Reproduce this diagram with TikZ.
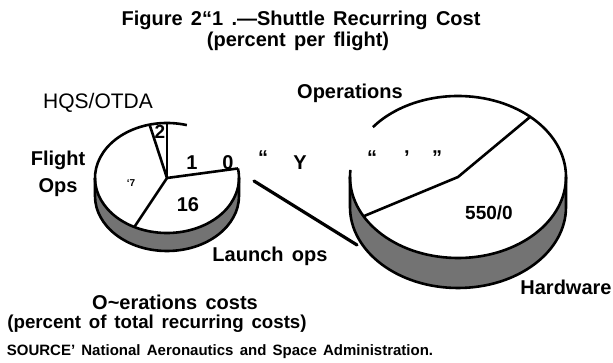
\documentclass[tikz,border=0pt]{standalone}
\usepackage{fontspec}
\setmainfont{Liberation Sans}[WordSpace=1.5]
\tikzset{
  rim/.style={line width=2.6pt, line join=round},
  side/.style={fill=black!55},
  lbl/.style={font=\bfseries\fontsize{20}{22}\selectfont, inner sep=0pt},
  ttl/.style={font=\bfseries\fontsize{20}{22}\selectfont, inner sep=0pt},
  pct/.style={font=\bfseries\fontsize{19}{21}\selectfont, inner sep=0pt},
}
\begin{document}
\begin{tikzpicture}[x=1pt,y=1pt]
\useasboundingbox (0,0) rectangle (613,363);
\node[ttl] (title) at (301,343) {Figure 2“1 .—Shuttle Recurring Cost};
\node[ttl] (subtitle) at (298,322) {(percent per flight)};
% small pie
\coordinate (small) at (167,185);
\fill[side] (small) ++(180:72 and 55) arc[start angle=180,end angle=360,x radius=72,y radius=55]
  -- ++(0,-18) arc[start angle=360,end angle=180,x radius=72,y radius=55] -- cycle;
\draw[rim] (small) ++(180:72 and 55) -- ++(0,-18)
  arc[start angle=180,end angle=360,x radius=72,y radius=55] -- ++(0,18);
\draw[rim] (small) ++(74:72 and 55) arc[start angle=74,end angle=370,x radius=72,y radius=55];
\draw[rim] (small) -- +(10:72 and 55);
\draw[rim] (small) -- +(90:72 and 55);
\draw[rim] (small) -- +(104:72 and 55);
\draw[rim] (small) -- +(243:72 and 55);
% big pie
\coordinate (big) at (458,186);
\fill[side] (big) ++(180:108 and 81) arc[start angle=180,end angle=360,x radius=108,y radius=81]
  -- ++(0,-30) arc[start angle=360,end angle=180,x radius=108,y radius=81] -- cycle;
\draw[rim] (big) ++(180:108 and 81) -- ++(0,-30)
  arc[start angle=180,end angle=360,x radius=108,y radius=81] -- ++(0,30);
\draw[rim] (big) ++(175:108 and 81) arc[start angle=175,end angle=502,x radius=108,y radius=81];
\draw[rim] (big) +(209:108 and 81) -- (big) -- +(48:108 and 81);
% link between the pies
\coordinate (lfrom) at (254,182);
\coordinate (lto) at (357,118);
\draw[line width=3.2pt, line cap=round] (lfrom) -- (lto);
% labels
\node[font=\fontsize{21}{23}\selectfont, inner sep=0pt] (hqs) at (98,260) {HQS/OTDA};
\node[lbl] (opslabel) at (350,270) {Operations};
\node[lbl] (flight) at (58,203) {Flight};
\node[lbl] (ops) at (58,175) {Ops};
\node[pct] (two) at (160,231) {2};
\node[lbl] (one) at (192,200) {1};
\node[lbl] (zero) at (228,200) {0};
\node[lbl] (qa) at (263,205) {“};
\node[lbl] (why) at (300,200) {Y};
\node[lbl] (qb) at (372,205) {“};
\node[lbl] (qc) at (407,205) {’};
\node[lbl] (qd) at (437,205) {”};
\node[font=\bfseries\fontsize{10}{12}\selectfont, inner sep=0pt] (seven) at (131,180) {‘7};
\node[lbl] (sixteen) at (188,158) {16};
\node[pct] (hwpct) at (489,150) {550/0};
\node[lbl] (launch) at (270,107) {Launch ops};
\node[lbl] (hardware) at (566,76) {Hardware};
\node[lbl] (opcost) at (175,61) {O\char`\~erations costs};
\node[font=\bfseries\fontsize{18.7}{21}\selectfont, inner sep=0pt] (pctcost) at (157,39)
  {(percent of total recurring costs)};
\node[font=\bfseries\fontsize{15}{17}\selectfont, inner sep=0pt] (source) at (220,11)
  {SOURCE’ National Aeronautics and Space Administration.};
\end{tikzpicture}
\end{document}
